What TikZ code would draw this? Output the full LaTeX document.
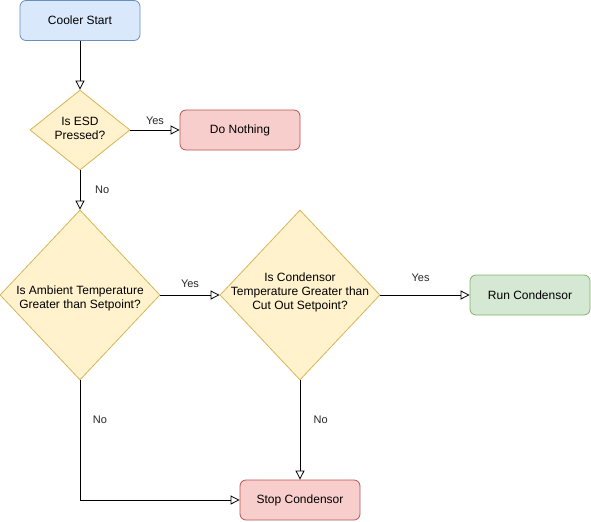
\documentclass[tikz,border=0pt]{standalone}
\usepackage{fontspec}
\setmainfont{Liberation Sans}
\usetikzlibrary{arrows.meta,shapes.geometric}
\definecolor{bluefill}{HTML}{DAE8FC}\definecolor{bluedraw}{HTML}{6C8EBF}
\definecolor{redfill}{HTML}{F8CECC}\definecolor{reddraw}{HTML}{B85450}
\definecolor{greenfill}{HTML}{D5E8D4}\definecolor{greendraw}{HTML}{82B366}
\definecolor{yelfill}{HTML}{FFF2CC}\definecolor{yeldraw}{HTML}{D6B656}
\begin{document}
\begin{tikzpicture}[x=0.75pt,y=-0.75pt,
  font=\fontsize{9}{10.5}\selectfont,
  box/.style={rounded corners=4.5pt,minimum width=90pt,minimum height=30pt,inner sep=0pt,align=center,line width=0.6pt},
  bluebox/.style={box,fill=bluefill,draw=bluedraw},
  redbox/.style={box,fill=redfill,draw=reddraw},
  greenbox/.style={box,fill=greenfill,draw=greendraw},
  decision/.style={diamond,aspect=1,inner sep=0pt,fill=yelfill,draw=yeldraw,line width=0.6pt,align=center},
  flow/.style={draw=black,line width=0.6pt,-{Triangle[open,length=6.75pt,width=6.75pt]}},
  lbl/.style={font=\fontsize{8.25}{10}\selectfont,text=black!85,inner sep=0pt}
]
\useasboundingbox (0,0) rectangle (591,521);
\node[bluebox] (start) at (80,20.5) {Cooler Start};
\node[decision,minimum width=75pt,minimum height=60pt] (esd) at (80,130) {};
\node[align=center] (esdt) at (80,128) {Is ESD\\Pressed?};
\node[redbox] (nothing) at (240,130) {Do Nothing};
\node[decision,minimum width=120pt,minimum height=127.5pt] (amb) at (80,295) {};
\node[align=center] (ambt) at (80,298) {Is Ambient Temperature\\Greater than Setpoint?};
\node[decision,minimum width=120pt,minimum height=127.5pt] (cond) at (300,295) {};
\node[align=center] (condt) at (300,292) {Is Condensor\\Temperature Greater than\\Cut Out Setpoint?};
\node[greenbox] (run) at (530,295) {Run Condensor};
\node[redbox] (stop) at (300,500) {Stop Condensor};
\coordinate (corner) at (80,500);

\draw[flow] (start.south) -- (esd.north);
\draw[flow] (esd.east) -- node[lbl,above=4pt,pos=0.5] (y1) {Yes} (nothing.west);
\draw[flow] (esd.south) -- node[lbl,right=11pt,pos=0.5] (n1) {No} (amb.north);
\draw[flow] (amb.east) -- node[lbl,above=5pt,pos=0.5] (y2) {Yes} (cond.west);
\draw[flow] (cond.east) -- node[lbl,above=10pt,pos=0.45] (y3) {Yes} (run.west);
\draw[flow] (cond.south) -- node[lbl,right=10pt,pos=0.4] (n3) {No} (stop.north);
\draw[flow] (amb.south) -- (corner) -- (stop.west);
\node[lbl] (n2) at (100,420) {No};
\end{tikzpicture}
\end{document}
